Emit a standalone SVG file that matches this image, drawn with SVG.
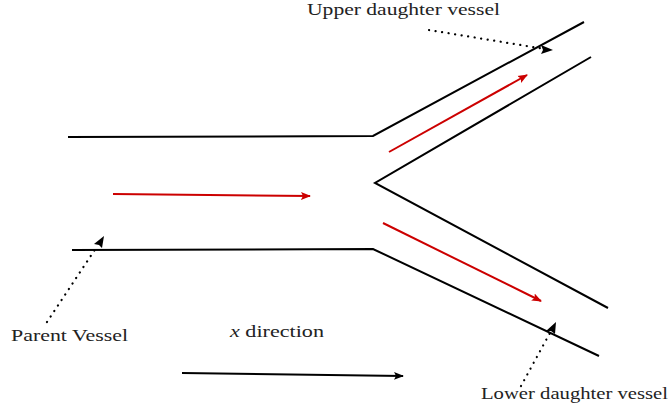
<svg xmlns="http://www.w3.org/2000/svg" width="671" height="415" viewBox="0 0 671 415">
<style>
.wall{fill:none;stroke:#000;stroke-width:2;stroke-linejoin:miter}
.flow{fill:none;stroke:#cc0000;stroke-width:2}
.dot{fill:none;stroke:#000;stroke-width:2.2;stroke-dasharray:0.1 6.5;stroke-linecap:round}
.lbl{font-family:"Liberation Serif","DejaVu Serif",serif;font-size:17px;fill:#222}
</style>
<defs>
<marker id="ar" viewBox="0 0 10 10" refX="9" refY="5" markerWidth="5" markerHeight="5" orient="auto" markerUnits="strokeWidth"><path d="M0,1 L10,5 L0,9 L2,5 z" fill="#cc0000"/></marker>
<marker id="ak" viewBox="0 0 10 10" refX="9" refY="5" markerWidth="5" markerHeight="5" orient="auto" markerUnits="strokeWidth"><path d="M0,1 L10,5 L0,9 L2,5 z" fill="#000"/></marker>
</defs>
<g id="vessel">
<polyline class="wall" points="68,137 373,136 584,22"/>
<polyline class="wall" points="591,57 375,183 608,308"/>
<polyline class="wall" points="72,250 373,249 599,356"/>
</g>
<g id="connectors">
<line class="flow" x1="113" y1="194" x2="310" y2="196" marker-end="url(#ar)"/>
<line class="flow" x1="389" y1="152" x2="527" y2="75" marker-end="url(#ar)"/>
<line class="flow" x1="383" y1="223" x2="541" y2="301" marker-end="url(#ar)"/>
<line class="wall" x1="182" y1="373" x2="403" y2="376" marker-end="url(#ak)"/>
<line class="dot" x1="429" y1="30" x2="545" y2="49"/>
<path d="M553,50 L541,54 L543,50 L541,45 z" fill="#000"/>
<line class="dot" x1="47" y1="322" x2="98" y2="245"/>
<path d="M104,236 L102,248 L99,245 L94,244 z" fill="#000"/>
<line class="dot" x1="521" y1="386" x2="551" y2="331"/>
<path d="M556,322 L555,334 L551,331 L546,331 z" fill="#000"/>
</g>
<g id="labels">
<text class="lbl" x="307" y="15" textLength="193" lengthAdjust="spacingAndGlyphs">Upper daughter vessel</text>
<text class="lbl" x="11" y="341" textLength="117" lengthAdjust="spacingAndGlyphs">Parent Vessel</text>
<text class="lbl" x="230" y="337" textLength="94" lengthAdjust="spacingAndGlyphs"><tspan font-style="italic">x</tspan> direction</text>
<text class="lbl" x="481" y="399" textLength="187" lengthAdjust="spacingAndGlyphs">Lower daughter vessel</text>
</g>
</svg>
